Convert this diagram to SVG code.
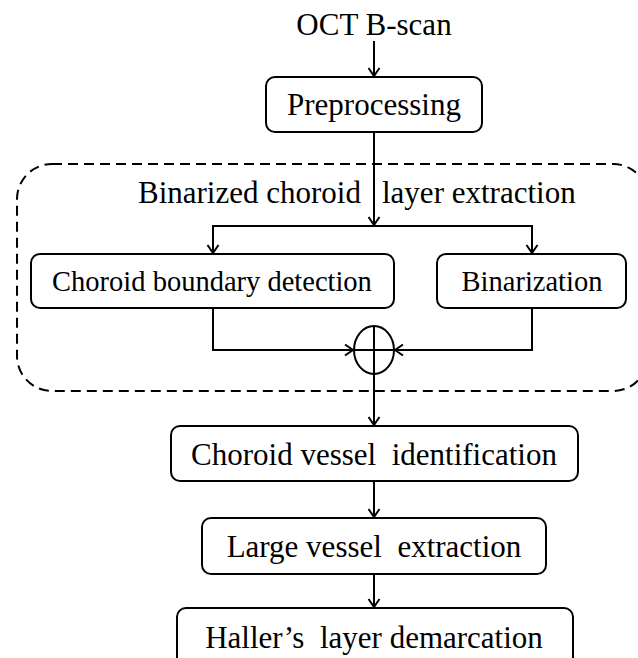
<svg xmlns="http://www.w3.org/2000/svg" width="638" height="658" viewBox="0 0 638 658">
<defs>
<marker id="arr" markerWidth="14" markerHeight="14" refX="10" refY="7" orient="auto" markerUnits="userSpaceOnUse">
<path d="M2,1.5 L10,7 L2,12.5" fill="none" stroke="#000" stroke-width="2"/>
</marker>
</defs>
<style>
text{font-family:"Liberation Serif","Times New Roman",serif;fill:#000}
.b{fill:#fff;stroke:#000;stroke-width:2}
.t{font-size:31px;text-anchor:middle}
.s{font-size:28.5px;text-anchor:middle}
.c{fill:none;stroke:#000;stroke-width:2}
.a{marker-end:url(#arr)}
</style>
<rect width="638" height="658" fill="#fff"/>
<g id="group">
<rect x="17" y="164" width="631" height="227" rx="35" ry="35" fill="none" stroke="#000" stroke-width="2" stroke-dasharray="10,6"/>
<text font-size="31" xml:space="preserve"><tspan x="138" y="203">Binarized choroid</tspan><tspan x="382" y="203">layer extraction</tspan></text>
</g>
<g id="input"><text class="t" x="374" y="35">OCT B-scan</text></g>
<g id="preprocessing"><rect class="b" x="266" y="77" width="216" height="55" rx="9"/><text class="t" x="374" y="115">Preprocessing</text></g>
<g id="boundary"><rect class="b" x="31" y="254" width="363" height="54" rx="9"/><text class="s" x="212" y="291">Choroid boundary detection</text></g>
<g id="binarization"><rect class="b" x="437" y="254" width="189" height="54" rx="9"/><text class="s" x="532" y="291">Binarization</text></g>
<g id="combine"><ellipse cx="374" cy="350" rx="20" ry="24" class="c"/><path class="c" d="M374,326 V374 M354,350 H394"/></g>
<g id="vessel-id"><rect class="b" x="171" y="426" width="407" height="55" rx="9"/><text class="t" x="374" y="465" xml:space="preserve">Choroid vessel  identification</text></g>
<g id="large-vessel"><rect class="b" x="202" y="518" width="344" height="56" rx="9"/><text class="t" x="374" y="557" xml:space="preserve">Large vessel  extraction</text></g>
<g id="haller"><rect class="b" x="177" y="608" width="396" height="58" rx="9"/><text class="t" x="374" y="648" xml:space="preserve">Haller’s  layer demarcation</text></g>
<g id="connectors">
<path class="c a" d="M374,41 V76"/>
<path class="c a" d="M374,132 V225"/>
<path class="c a" d="M374,226 H213 V253"/>
<path class="c a" d="M374,226 H532 V253"/>
<path class="c a" d="M213,308 V350 H353"/>
<path class="c a" d="M532,308 V350 H395"/>
<path class="c a" d="M374,374 V425"/>
<path class="c a" d="M374,481 V517"/>
<path class="c a" d="M374,574 V607"/>
</g>
</svg>
